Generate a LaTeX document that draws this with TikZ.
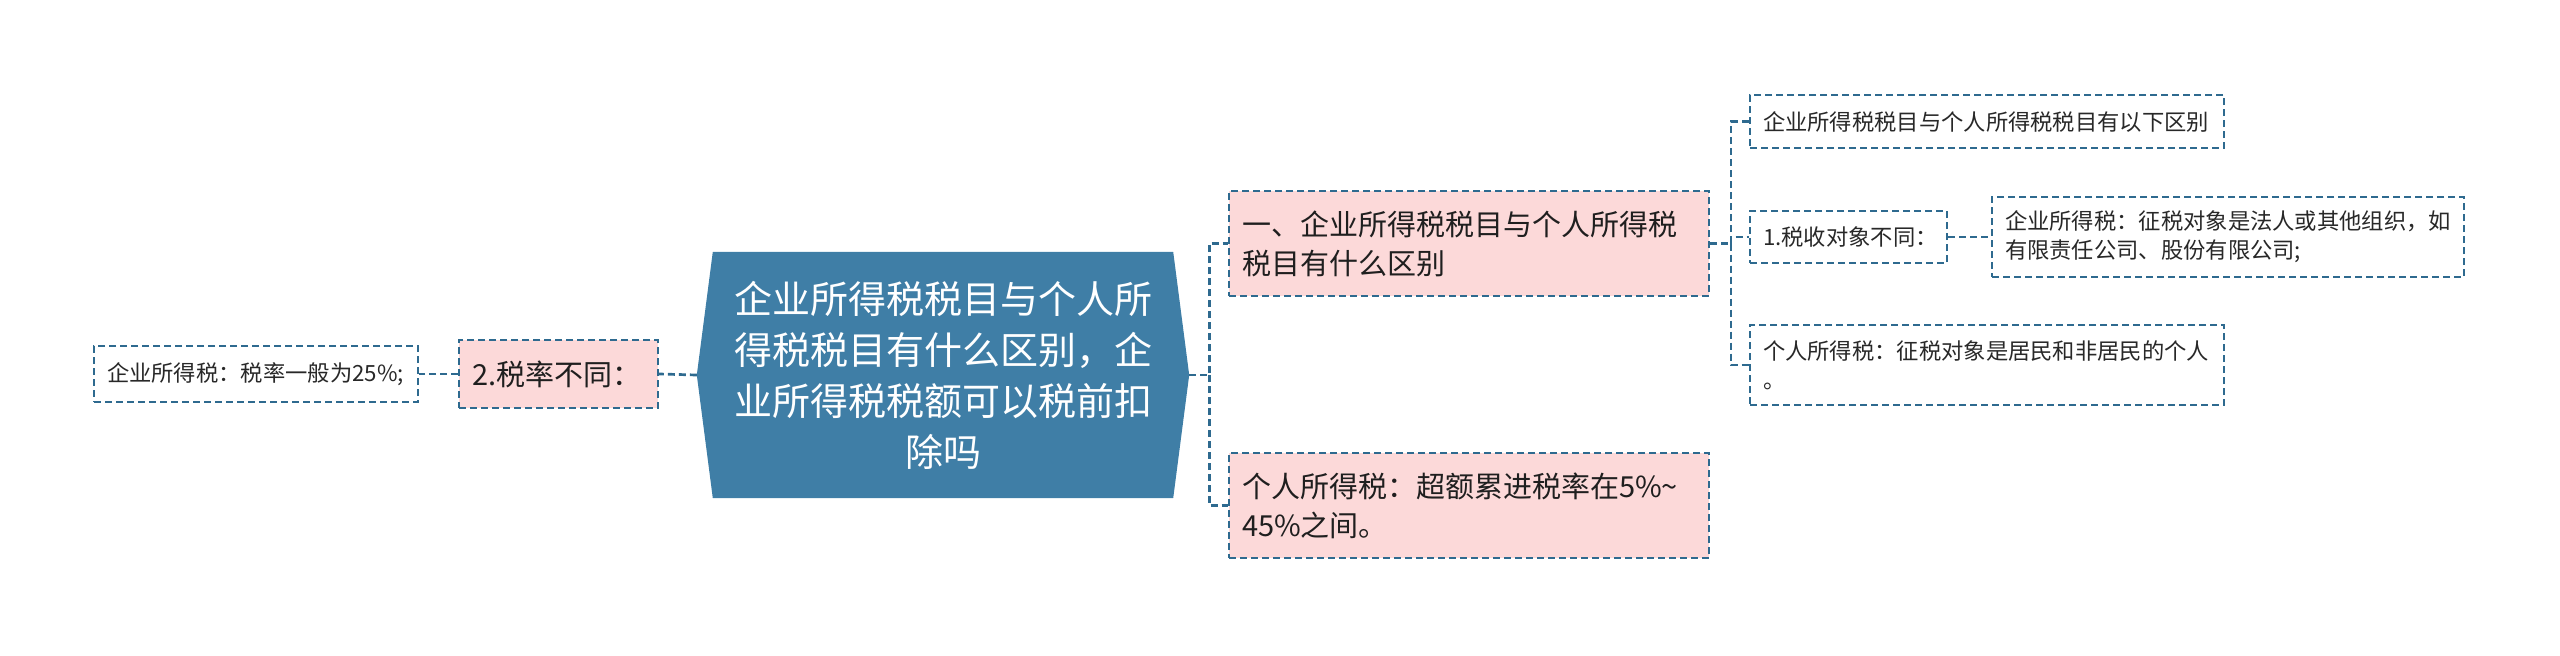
\documentclass[tikz,border=0pt]{standalone}
\usepackage{fontspec}
\setmainfont{Noto Sans CJK SC}
\usetikzlibrary{positioning}
\usetikzlibrary{backgrounds}
\definecolor{rootblue}{RGB}{63,126,166}
\definecolor{linkblue}{RGB}{46,106,143}
\definecolor{topicpink}{RGB}{252,217,217}
\definecolor{leaftext}{RGB}{40,40,40}
\tikzset{
	basebox/.style = {
		rectangle,
		draw=linkblue,
		line width=2pt,
		dash pattern=on 7pt off 4pt,
		inner xsep=13pt,
		inner ysep=0pt,
		align=left
	},
	topic/.style = {
		basebox,
		fill=topicpink,
		text=black!88,
		font=\fontsize{29pt}{39pt}\selectfont
	},
	leaf/.style = {
		basebox,
		fill=white,
		text=leaftext,
		font=\fontsize{22.3pt}{29pt}\selectfont
	},
	rootnode/.style = {
		rectangle,
		inner sep=0pt,
		align=center,
		text=white,
		font=\fontsize{38pt}{51pt}\selectfont,
		minimum width=460pt,
		minimum height=246pt
	},
	link/.style = {
		draw=linkblue,
		line width=2.7pt,
		dash pattern=on 7pt off 4pt
	},
}

\begin{document}
\begin{tikzpicture}[x=1pt, y=-1pt]
\useasboundingbox (0,0) rectangle (2560,656);
% centre
\node [rootnode] (root) at (943,375) {企业所得税税目与个人所\\得税税目有什么区别，企\\业所得税税额可以税前扣\\除吗};
\begin{scope}[on background layer]
\fill [rootblue] (root.north west) -- (root.north east) -- ([xshift=16pt]root.east)
	-- (root.south east) -- (root.south west) -- ([xshift=-16pt]root.west) -- cycle;
\end{scope}
\coordinate (rootL) at ([xshift=-16pt]root.west);
\coordinate (rootR) at ([xshift=16pt]root.east);

% left branch
\node [topic, text width=173pt, minimum width=199pt, minimum height=68pt] (rate) at (558.5,374) {2.税率不同：};
\node [leaf, text width=298pt, minimum width=324pt, minimum height=56pt, left=39pt of rate] (rateleaf) {企业所得税：税率一般为25\%;};

% right branch
\node [topic, text width=454pt, minimum width=480pt, minimum height=105pt] (diff) at (1469,243.5) {一、企业所得税税目与个人所得税\\税目有什么区别};
\node [topic, text width=454pt, minimum width=480pt, minimum height=105pt] (pitrate) at (1469,505.5) {个人所得税：超额累进税率在5\%\textasciitilde\\45\%之间。};

\node [leaf, text width=448pt, minimum width=474pt, minimum height=53pt] (listhead) at (1987,121.5) {企业所得税税目与个人所得税税目有以下区别};
\node [leaf, text width=171pt, minimum width=197pt, minimum height=52pt] (object) at (1848.5,237) {1.税收对象不同：};
\node [leaf, text width=446pt, minimum width=472pt, minimum height=80pt, right=43pt of object] (corpobj) {企业所得税：征税对象是法人或其他组织，如\\有限责任公司、股份有限公司;};
\node [leaf, text width=448pt, minimum width=474pt, minimum height=80pt] (persobj) at (1987,365) {个人所得税：征税对象是居民和非居民的个人\\。};

% connectors
\draw [link] (rootL) -- (rate.east);
\draw [link] (rate.west) -- (rateleaf.east);
\coordinate (jr) at ([xshift=20pt]rootR);
\draw [link] (rootR) -- (jr) |- (diff.west);
\draw [link] (jr) |- (pitrate.west);
\coordinate (jd) at ([xshift=21pt]diff.east);
\draw [link] (diff.east) -- (jd) |- (listhead.west);
\draw [link] (jd) |- (object.west);
\draw [link] (jd) |- (persobj.west);
\draw [link] (object.east) -- (corpobj.west);
\end{tikzpicture}
\end{document}
